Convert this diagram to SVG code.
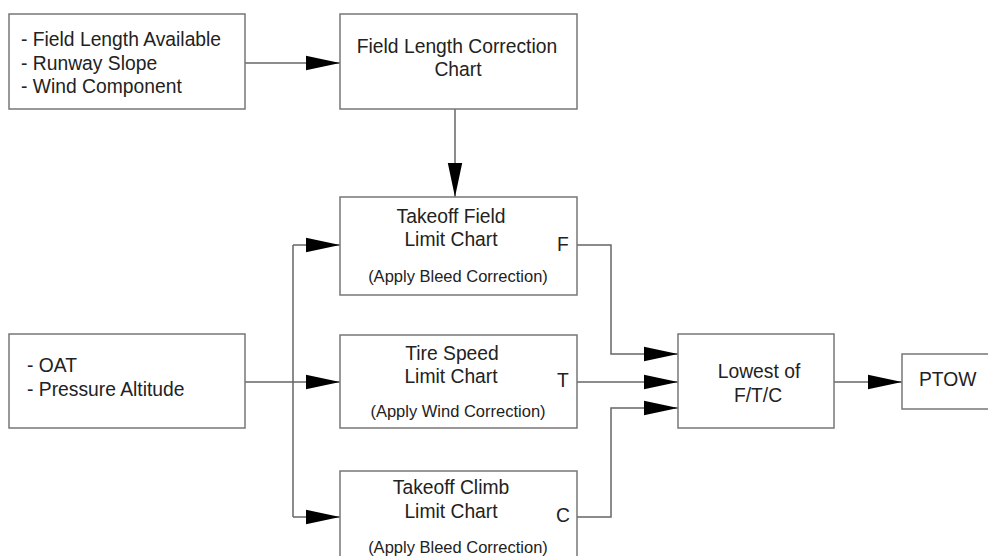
<svg xmlns="http://www.w3.org/2000/svg" width="988" height="556" viewBox="0 0 988 556">
<defs>
<marker id="ah" markerUnits="userSpaceOnUse" viewBox="0 0 34 16" refX="34" refY="8" markerWidth="34" markerHeight="16" orient="auto">
<path d="M0,0.8 L34,8 L0,15.2 Z" fill="#000"/>
</marker>
<style>
.box{fill:#fff;stroke:#777;stroke-width:1.5}
.t{font-family:"Liberation Sans",Arial,sans-serif;font-size:19.3px;fill:#222}
.s{font-family:"Liberation Sans",Arial,sans-serif;font-size:16.5px;fill:#222}
.c{text-anchor:middle}
.ln{fill:none;stroke:#666;stroke-width:1.5}
.ar{fill:none;stroke:#666;stroke-width:1.5;marker-end:url(#ah)}
</style>
</defs>
<rect width="988" height="556" fill="#fff"/>
<g id="connectors">
<path class="ar" d="M245,63 H340"/>
<path class="ar" d="M455,109 V197"/>
<path class="ln" d="M245,382 H293 M293,245 V517"/>
<path class="ar" d="M293,245 H340"/>
<path class="ar" d="M293,382 H340"/>
<path class="ar" d="M293,517 H340"/>
<path class="ar" d="M577,245 H611 V354 H678"/>
<path class="ar" d="M577,382 H678"/>
<path class="ar" d="M577,517 H611 V408 H678"/>
<path class="ar" d="M834,382 H902"/>
</g>
<g id="inputs1">
<rect class="box" x="9" y="14" width="236" height="95"/>
<text class="t" x="21" y="46">- Field Length Available</text>
<text class="t" x="21" y="70">- Runway Slope</text>
<text class="t" x="21" y="93">- Wind Component</text>
</g>
<g id="flcc">
<rect class="box" x="340" y="14" width="237" height="95"/>
<text class="t c" x="457" y="53">Field Length Correction</text>
<text class="t c" x="458" y="76">Chart</text>
</g>
<g id="tofield">
<rect class="box" x="340" y="197" width="237" height="98"/>
<text class="t c" x="451" y="223">Takeoff Field</text>
<text class="t c" x="451" y="246">Limit Chart</text>
<text class="s c" x="458" y="282">(Apply Bleed Correction)</text>
<text class="t c" x="563" y="251">F</text>
</g>
<g id="tirespeed">
<rect class="box" x="340" y="335" width="237" height="93"/>
<text class="t c" x="452" y="360">Tire Speed</text>
<text class="t c" x="451" y="383">Limit Chart</text>
<text class="s c" x="458" y="417">(Apply Wind Correction)</text>
<text class="t c" x="563" y="387">T</text>
</g>
<g id="toclimb">
<rect class="box" x="340" y="471" width="237" height="120"/>
<text class="t c" x="451" y="494">Takeoff Climb</text>
<text class="t c" x="451" y="518">Limit Chart</text>
<text class="s c" x="458" y="553">(Apply Bleed Correction)</text>
<text class="t c" x="563" y="522">C</text>
</g>
<g id="inputs2">
<rect class="box" x="9" y="334" width="236" height="94"/>
<text class="t" x="27" y="372">- OAT</text>
<text class="t" x="27" y="396">- Pressure Altitude</text>
</g>
<g id="lowest">
<rect class="box" x="678" y="334" width="156" height="94"/>
<text class="t c" x="759" y="378">Lowest of</text>
<text class="t c" x="758" y="402">F/T/C</text>
</g>
<g id="ptow">
<rect class="box" x="902" y="354" width="100" height="55"/>
<text class="t" x="919" y="386">PTOW</text>
</g>
</svg>
